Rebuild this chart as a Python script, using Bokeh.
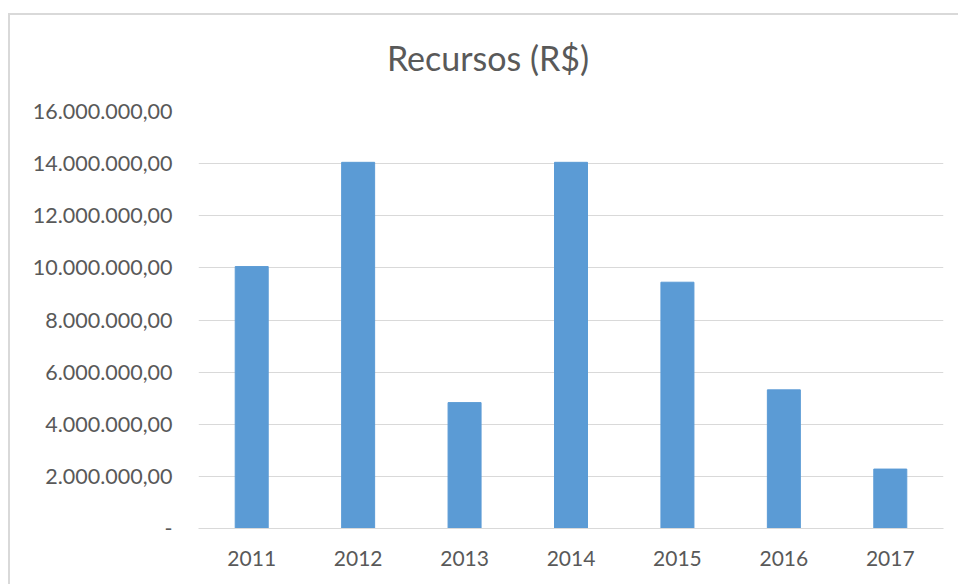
from bokeh.plotting import figure
from bokeh.models import FixedTicker, Range1d, Div
from bokeh.layouts import column
from bokeh.embed import file_html
from bokeh.resources import INLINE

years = ["2011", "2012", "2013", "2014", "2015", "2016", "2017"]
recursos = [10050000, 14050000, 4830000, 14050000, 9450000, 5320000, 2280000]
y_ticks = [0, 2000000, 4000000, 6000000, 8000000, 10000000, 12000000, 14000000, 16000000]
y_labels = ["-", "2.000.000,00", "4.000.000,00", "6.000.000,00", "8.000.000,00",
            "10.000.000,00", "12.000.000,00", "14.000.000,00", "16.000.000,00"]
title_text = "Recursos (R$)"

FONT = "Lato"
TXT = "#595959"
GRID = "#D9D9D9"

title_html = ('<div style="width:956px;height:76px;line-height:86px;text-align:center;'
              'font-family:Lato;font-size:34px;color:#595959;white-space:nowrap;">'
              + title_text + '</div>')
title_div = Div(text=title_html, width=956, height=76, margin=0,
                styles={"background-color": "white"})

p = figure(x_range=years, y_range=Range1d(0, 16000000), width=950, height=493,
           output_backend="svg", toolbar_location=None,
           min_border_left=188, min_border_right=17, min_border_top=20, min_border_bottom=56)

p.vbar(x=years, top=recursos, width=0.31, color="#5B9BD5")

p.outline_line_color = None
p.background_fill_color = "white"
p.border_fill_color = "white"

p.xgrid.grid_line_color = None
p.ygrid.grid_line_color = GRID
p.ygrid.grid_line_width = 1

p.yaxis.ticker = FixedTicker(ticks=y_ticks)
p.yaxis.major_label_overrides = {t: l for t, l in zip(y_ticks, y_labels)}
p.yaxis.axis_line_color = None
p.yaxis.major_tick_line_color = None
p.yaxis.minor_tick_line_color = None
p.yaxis.major_tick_out = 0
p.yaxis.major_label_standoff = 26
p.yaxis.major_label_text_font = FONT
p.yaxis.major_label_text_font_size = "21.5px"
p.yaxis.major_label_text_color = TXT

p.xaxis.axis_line_color = GRID
p.xaxis.major_tick_line_color = None
p.xaxis.minor_tick_line_color = None
p.xaxis.major_tick_out = 0
p.xaxis.major_label_standoff = 22
p.xaxis.major_label_text_font = FONT
p.xaxis.major_label_text_font_size = "21px"
p.xaxis.major_label_text_color = TXT

layout = column(title_div, p, spacing=0,
                styles={"margin-top": "13px", "margin-left": "8px",
                        "border-top": "2px solid #D9D9D9", "border-left": "2px solid #D9D9D9",
                        "background-color": "white"})

open("out.html", "w").write(file_html(layout, INLINE))
